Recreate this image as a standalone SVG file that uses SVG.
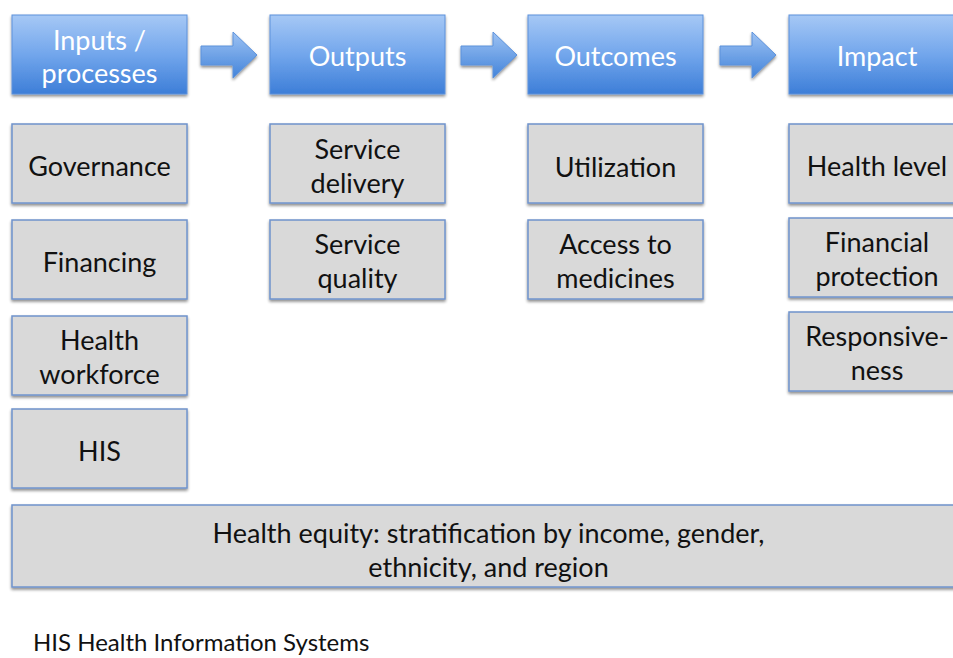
<svg xmlns="http://www.w3.org/2000/svg" width="953" height="658" viewBox="0 0 953 658">
<defs>
<linearGradient id="gHead" x1="0" y1="0" x2="0" y2="1">
<stop offset="0" stop-color="#a6c8f5"/>
<stop offset="0.5" stop-color="#72a6ec"/>
<stop offset="1" stop-color="#3d7ed8"/>
</linearGradient>
<linearGradient id="gArrow" x1="0" y1="0" x2="0" y2="1">
<stop offset="0" stop-color="#9dc2f3"/>
<stop offset="1" stop-color="#4384da"/>
</linearGradient>
<filter id="sh" x="-10%" y="-10%" width="120%" height="130%">
<feGaussianBlur in="SourceAlpha" stdDeviation="1.5"/>
<feOffset dx="0" dy="2" result="b"/>
<feComponentTransfer><feFuncA type="linear" slope="0.45"/></feComponentTransfer>
<feMerge><feMergeNode/><feMergeNode in="SourceGraphic"/></feMerge>
</filter>
</defs>
<style>
.head{fill:url(#gHead);stroke:#5d92db;stroke-width:1;filter:url(#sh)}
.box{fill:#d9d9d9;stroke:#6f93cc;stroke-width:1.5;filter:url(#sh)}
.arr{fill:url(#gArrow);stroke:#5d92db;stroke-width:1;filter:url(#sh)}
text{font-family:Lato,"Open Sans","Liberation Sans",sans-serif;font-size:27px;text-anchor:middle}
.ht{fill:#ffffff}
.bt{fill:#111111}
.foot{font-size:24px;text-anchor:start;fill:#111111}
</style>
<rect width="953" height="658" fill="#ffffff"/>

<g id="connectors">
<path class="arr" d="M201,46 H233 V32 L257,55 L233,78 V65 H201 Z"/>
<path class="arr" d="M461,46 H493 V32 L517,55 L493,78 V65 H461 Z"/>
<path class="arr" d="M720,46 H752 V32 L776,55 L752,78 V65 H720 Z"/>
</g>

<g id="h-inputs"><rect class="head" x="12" y="15" width="175" height="79"/>
<text class="ht" x="99.5" y="50">Inputs /</text><text class="ht" x="99.5" y="83">processes</text></g>
<g id="h-outputs"><rect class="head" x="270" y="15" width="175" height="79"/>
<text class="ht" x="357.5" y="66">Outputs</text></g>
<g id="h-outcomes"><rect class="head" x="528" y="15" width="175" height="79"/>
<text class="ht" x="615.5" y="66">Outcomes</text></g>
<g id="h-impact"><rect class="head" x="789" y="15" width="176" height="79"/>
<text class="ht" x="877" y="66">Impact</text></g>

<g id="governance"><rect class="box" x="12" y="124" width="175" height="79"/>
<text class="bt" x="99.5" y="176">Governance</text></g>
<g id="financing"><rect class="box" x="12" y="220" width="175" height="79"/>
<text class="bt" x="99.5" y="272">Financing</text></g>
<g id="workforce"><rect class="box" x="12" y="316" width="175" height="79"/>
<text class="bt" x="99.5" y="350">Health</text><text class="bt" x="99.5" y="384">workforce</text></g>
<g id="his"><rect class="box" x="12" y="409" width="175" height="79"/>
<text class="bt" x="99.5" y="461">HIS</text></g>

<g id="service-delivery"><rect class="box" x="270" y="124" width="175" height="79"/>
<text class="bt" x="357.5" y="159">Service</text><text class="bt" x="357.5" y="193">delivery</text></g>
<g id="service-quality"><rect class="box" x="270" y="220" width="175" height="79"/>
<text class="bt" x="357.5" y="254">Service</text><text class="bt" x="357.5" y="288">quality</text></g>

<g id="utilization"><rect class="box" x="528" y="124" width="175" height="79"/>
<text class="bt" x="615.5" y="177">Utilization</text></g>
<g id="access"><rect class="box" x="528" y="220" width="175" height="79"/>
<text class="bt" x="615.5" y="254">Access to</text><text class="bt" x="615.5" y="288">medicines</text></g>

<g id="health-level"><rect class="box" x="789" y="124" width="176" height="79"/>
<text class="bt" x="877" y="176">Health level</text></g>
<g id="financial-protection"><rect class="box" x="789" y="218" width="176" height="79"/>
<text class="bt" x="877" y="252">Financial</text><text class="bt" x="877" y="286">protection</text></g>
<g id="responsiveness"><rect class="box" x="789" y="312" width="176" height="79"/>
<text class="bt" x="877" y="346">Responsive-</text><text class="bt" x="877" y="380">ness</text></g>

<g id="equity"><rect class="box" x="12" y="505" width="953" height="82"/>
<text class="bt" x="488.5" y="543">Health equity: stratification by income, gender,</text>
<text class="bt" x="488.5" y="577">ethnicity, and region</text></g>

<g id="footnote"><text class="foot" x="33" y="651">HIS Health Information Systems</text></g>
</svg>
